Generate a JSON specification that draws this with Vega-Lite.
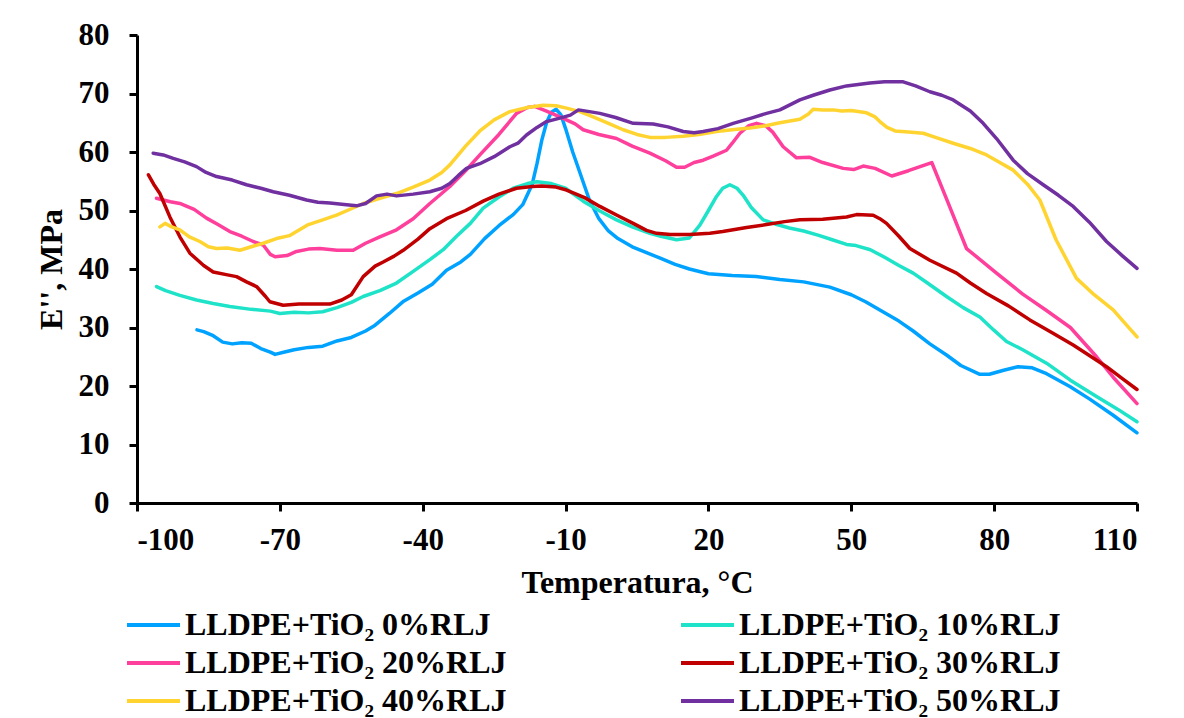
{
  "$schema": "https://vega.github.io/schema/vega-lite/v6.json",
  "width": 1000,
  "height": 468,
  "autosize": {"type": "none"},
  "padding": {"left": 137, "top": 35, "right": 47, "bottom": 215},
  "background": "white",
  "datasets": {
    "names": [
      {"k": 0, "s": "LLDPE+TiO₂ 0%RLJ"},
      {"k": 10, "s": "LLDPE+TiO₂ 10%RLJ"},
      {"k": 20, "s": "LLDPE+TiO₂ 20%RLJ"},
      {"k": 30, "s": "LLDPE+TiO₂ 30%RLJ"},
      {"k": 40, "s": "LLDPE+TiO₂ 40%RLJ"},
      {"k": 50, "s": "LLDPE+TiO₂ 50%RLJ"}
    ],
    "curves": [
      {"k":0,"t":-87.4,"e":29.6},{"k":0,"t":-86,"e":29.3},{"k":0,"t":-84,"e":28.6},{"k":0,"t":-82,"e":27.5},{"k":0,"t":-80,"e":27.2},{"k":0,"t":-78,"e":27.4},{"k":0,"t":-76,"e":27.3},{"k":0,"t":-74,"e":26.4},{"k":0,"t":-72,"e":25.8},{"k":0,"t":-71,"e":25.4},{"k":0,"t":-69,"e":25.8},{"k":0,"t":-67,"e":26.2},{"k":0,"t":-64,"e":26.6},{"k":0,"t":-61,"e":26.8},{"k":0,"t":-58,"e":27.7},{"k":0,"t":-55,"e":28.3},{"k":0,"t":-52,"e":29.4},{"k":0,"t":-50,"e":30.4},{"k":0,"t":-47,"e":32.4},{"k":0,"t":-44,"e":34.5},{"k":0,"t":-41,"e":35.9},{"k":0,"t":-38,"e":37.4},{"k":0,"t":-35,"e":39.8},{"k":0,"t":-32,"e":41.2},{"k":0,"t":-30,"e":42.5},{"k":0,"t":-27,"e":45.2},{"k":0,"t":-24,"e":47.4},{"k":0,"t":-21,"e":49.3},{"k":0,"t":-19,"e":51},{"k":0,"t":-17,"e":54.5},{"k":0,"t":-16,"e":58},{"k":0,"t":-15,"e":62},{"k":0,"t":-14,"e":65},{"k":0,"t":-13,"e":66.8},{"k":0,"t":-12,"e":67.3},{"k":0,"t":-11,"e":66.4},{"k":0,"t":-10,"e":64},{"k":0,"t":-8.5,"e":60},{"k":0,"t":-7,"e":56.5},{"k":0,"t":-5,"e":51.8},{"k":0,"t":-3,"e":48.6},{"k":0,"t":-1,"e":46.5},{"k":0,"t":1,"e":45.2},{"k":0,"t":4,"e":43.8},{"k":0,"t":7,"e":42.8},{"k":0,"t":10,"e":41.8},{"k":0,"t":13,"e":40.8},{"k":0,"t":16,"e":40},{"k":0,"t":20,"e":39.2},{"k":0,"t":25,"e":38.9},{"k":0,"t":30,"e":38.7},{"k":0,"t":35,"e":38.2},{"k":0,"t":40,"e":37.8},{"k":0,"t":45.5,"e":36.9},{"k":0,"t":50,"e":35.6},{"k":0,"t":53,"e":34.4},{"k":0,"t":56,"e":33},{"k":0,"t":60,"e":31.1},{"k":0,"t":63,"e":29.4},{"k":0,"t":66.5,"e":27.2},{"k":0,"t":70,"e":25.3},{"k":0,"t":73,"e":23.5},{"k":0,"t":77,"e":22},{"k":0,"t":79,"e":22},{"k":0,"t":82,"e":22.7},{"k":0,"t":85,"e":23.3},{"k":0,"t":88,"e":23.1},{"k":0,"t":91,"e":22.1},{"k":0,"t":95.9,"e":19.9},{"k":0,"t":100,"e":17.8},{"k":0,"t":105,"e":15},{"k":0,"t":110,"e":12},
      {"k":10,"t":-95.9,"e":37},{"k":10,"t":-94,"e":36.3},{"k":10,"t":-91,"e":35.5},{"k":10,"t":-87.5,"e":34.7},{"k":10,"t":-84,"e":34.1},{"k":10,"t":-80.5,"e":33.6},{"k":10,"t":-76,"e":33.1},{"k":10,"t":-72,"e":32.8},{"k":10,"t":-70,"e":32.4},{"k":10,"t":-67,"e":32.6},{"k":10,"t":-64,"e":32.5},{"k":10,"t":-61,"e":32.7},{"k":10,"t":-58,"e":33.4},{"k":10,"t":-55,"e":34.3},{"k":10,"t":-52.5,"e":35.3},{"k":10,"t":-49,"e":36.3},{"k":10,"t":-45.5,"e":37.6},{"k":10,"t":-42,"e":39.6},{"k":10,"t":-38.5,"e":41.6},{"k":10,"t":-35.7,"e":43.3},{"k":10,"t":-33,"e":45.5},{"k":10,"t":-30,"e":47.8},{"k":10,"t":-27.3,"e":50.4},{"k":10,"t":-24,"e":52.3},{"k":10,"t":-21,"e":53.8},{"k":10,"t":-18,"e":54.6},{"k":10,"t":-16,"e":54.9},{"k":10,"t":-13,"e":54.6},{"k":10,"t":-10,"e":53.8},{"k":10,"t":-6.3,"e":51.6},{"k":10,"t":-3,"e":50},{"k":10,"t":0.7,"e":48.4},{"k":10,"t":4,"e":47.2},{"k":10,"t":7.7,"e":46.1},{"k":10,"t":10,"e":45.6},{"k":10,"t":13.3,"e":45},{"k":10,"t":16,"e":45.3},{"k":10,"t":18.2,"e":47.5},{"k":10,"t":20,"e":50},{"k":10,"t":21.7,"e":52.4},{"k":10,"t":23,"e":53.8},{"k":10,"t":24.5,"e":54.4},{"k":10,"t":26,"e":53.8},{"k":10,"t":27.3,"e":52.6},{"k":10,"t":29,"e":50.5},{"k":10,"t":31.5,"e":48.4},{"k":10,"t":34,"e":47.7},{"k":10,"t":37,"e":47},{"k":10,"t":40,"e":46.5},{"k":10,"t":43,"e":45.8},{"k":10,"t":46,"e":45},{"k":10,"t":49,"e":44.2},{"k":10,"t":51,"e":44},{"k":10,"t":54,"e":43.3},{"k":10,"t":57,"e":42},{"k":10,"t":60,"e":40.6},{"k":10,"t":63,"e":39.3},{"k":10,"t":66,"e":37.6},{"k":10,"t":70,"e":35.3},{"k":10,"t":73.5,"e":33.4},{"k":10,"t":77,"e":31.8},{"k":10,"t":80,"e":29.5},{"k":10,"t":82.6,"e":27.6},{"k":10,"t":86,"e":26.2},{"k":10,"t":91,"e":23.9},{"k":10,"t":96,"e":21},{"k":10,"t":101.5,"e":18.2},{"k":10,"t":106,"e":16},{"k":10,"t":110,"e":13.9},
      {"k":20,"t":-95.9,"e":52.1},{"k":20,"t":-93,"e":51.5},{"k":20,"t":-91,"e":51.2},{"k":20,"t":-88,"e":50.2},{"k":20,"t":-85.4,"e":48.7},{"k":20,"t":-83,"e":47.6},{"k":20,"t":-80.5,"e":46.4},{"k":20,"t":-78,"e":45.6},{"k":20,"t":-75.6,"e":44.7},{"k":20,"t":-73.5,"e":44.1},{"k":20,"t":-72,"e":42.5},{"k":20,"t":-71,"e":42.1},{"k":20,"t":-68.5,"e":42.3},{"k":20,"t":-66.5,"e":43},{"k":20,"t":-64,"e":43.4},{"k":20,"t":-61.6,"e":43.5},{"k":20,"t":-58,"e":43.2},{"k":20,"t":-54.6,"e":43.2},{"k":20,"t":-52,"e":44.4},{"k":20,"t":-49,"e":45.5},{"k":20,"t":-45.5,"e":46.7},{"k":20,"t":-42,"e":48.6},{"k":20,"t":-38.5,"e":51.2},{"k":20,"t":-34.3,"e":54.1},{"k":20,"t":-31,"e":56.8},{"k":20,"t":-28,"e":59.5},{"k":20,"t":-24,"e":63},{"k":20,"t":-20.3,"e":66.6},{"k":20,"t":-18,"e":67.6},{"k":20,"t":-16.5,"e":67.8},{"k":20,"t":-14,"e":67},{"k":20,"t":-11.2,"e":66},{"k":20,"t":-8,"e":64.8},{"k":20,"t":-6.3,"e":63.8},{"k":20,"t":-3,"e":63},{"k":20,"t":0.7,"e":62.3},{"k":20,"t":4,"e":61},{"k":20,"t":7.7,"e":59.8},{"k":20,"t":11,"e":58.5},{"k":20,"t":13.3,"e":57.4},{"k":20,"t":15,"e":57.4},{"k":20,"t":17,"e":58.2},{"k":20,"t":18.9,"e":58.6},{"k":20,"t":21,"e":59.3},{"k":20,"t":23.8,"e":60.3},{"k":20,"t":25,"e":61.5},{"k":20,"t":26.6,"e":63.2},{"k":20,"t":28.5,"e":64.5},{"k":20,"t":30.1,"e":64.9},{"k":20,"t":32,"e":64.5},{"k":20,"t":33.5,"e":63.4},{"k":20,"t":35.7,"e":60.9},{"k":20,"t":38.5,"e":59},{"k":20,"t":41.3,"e":59.1},{"k":20,"t":44,"e":58.2},{"k":20,"t":48.3,"e":57.2},{"k":20,"t":50.5,"e":57},{"k":20,"t":52.5,"e":57.6},{"k":20,"t":55,"e":57.2},{"k":20,"t":58.5,"e":55.9},{"k":20,"t":62,"e":56.8},{"k":20,"t":66.9,"e":58.2},{"k":20,"t":70,"e":52},{"k":20,"t":74.2,"e":43.5},{"k":20,"t":80.5,"e":39.3},{"k":20,"t":86,"e":35.7},{"k":20,"t":91,"e":32.9},{"k":20,"t":96,"e":30},{"k":20,"t":101.5,"e":25},{"k":20,"t":105,"e":21.5},{"k":20,"t":110,"e":17},
      {"k":30,"t":-97.6,"e":56.1},{"k":30,"t":-96.5,"e":54.5},{"k":30,"t":-95.2,"e":52.9},{"k":30,"t":-93.1,"e":48.9},{"k":30,"t":-91,"e":45.5},{"k":30,"t":-88.9,"e":42.7},{"k":30,"t":-86,"e":40.6},{"k":30,"t":-84,"e":39.5},{"k":30,"t":-81,"e":39},{"k":30,"t":-79.1,"e":38.7},{"k":30,"t":-77,"e":37.8},{"k":30,"t":-74.9,"e":37},{"k":30,"t":-73,"e":35.3},{"k":30,"t":-72.1,"e":34.4},{"k":30,"t":-69.3,"e":33.8},{"k":30,"t":-66,"e":34},{"k":30,"t":-62.3,"e":34},{"k":30,"t":-59.5,"e":34},{"k":30,"t":-57,"e":34.7},{"k":30,"t":-55,"e":35.6},{"k":30,"t":-52.5,"e":38.7},{"k":30,"t":-50,"e":40.5},{"k":30,"t":-48.3,"e":41.2},{"k":30,"t":-46,"e":42.2},{"k":30,"t":-44.1,"e":43.2},{"k":30,"t":-41,"e":45.1},{"k":30,"t":-38.5,"e":46.9},{"k":30,"t":-35,"e":48.6},{"k":30,"t":-31,"e":50},{"k":30,"t":-27.3,"e":51.6},{"k":30,"t":-24,"e":52.8},{"k":30,"t":-20.3,"e":53.8},{"k":30,"t":-17,"e":54.1},{"k":30,"t":-15,"e":54.2},{"k":30,"t":-12,"e":54},{"k":30,"t":-9.8,"e":53.5},{"k":30,"t":-6,"e":52.2},{"k":30,"t":-2.8,"e":50.7},{"k":30,"t":1,"e":49.1},{"k":30,"t":4.2,"e":47.8},{"k":30,"t":7,"e":46.6},{"k":30,"t":9.1,"e":46.1},{"k":30,"t":12,"e":45.9},{"k":30,"t":16,"e":45.9},{"k":30,"t":20.3,"e":46.1},{"k":30,"t":23,"e":46.4},{"k":30,"t":25.2,"e":46.7},{"k":30,"t":28,"e":47.1},{"k":30,"t":32.2,"e":47.6},{"k":30,"t":36,"e":48.1},{"k":30,"t":39.2,"e":48.4},{"k":30,"t":44,"e":48.5},{"k":30,"t":49,"e":48.9},{"k":30,"t":51.1,"e":49.3},{"k":30,"t":54.6,"e":49.2},{"k":30,"t":56,"e":48.6},{"k":30,"t":57.4,"e":47.8},{"k":30,"t":60,"e":45.6},{"k":30,"t":62.3,"e":43.5},{"k":30,"t":66.5,"e":41.5},{"k":30,"t":72.1,"e":39.3},{"k":30,"t":75,"e":37.6},{"k":30,"t":78.4,"e":35.8},{"k":30,"t":83,"e":33.7},{"k":30,"t":87.5,"e":31.3},{"k":30,"t":92,"e":29.2},{"k":30,"t":96.6,"e":27},{"k":30,"t":100,"e":25.2},{"k":30,"t":103.6,"e":23.3},{"k":30,"t":107,"e":21.2},{"k":30,"t":110,"e":19.4},
      {"k":40,"t":-95.2,"e":47.2},{"k":40,"t":-94.1,"e":47.8},{"k":40,"t":-93,"e":47.3},{"k":40,"t":-91,"e":46.7},{"k":40,"t":-89,"e":45.5},{"k":40,"t":-86.8,"e":44.7},{"k":40,"t":-85,"e":43.8},{"k":40,"t":-83.3,"e":43.5},{"k":40,"t":-81,"e":43.6},{"k":40,"t":-78.4,"e":43.2},{"k":40,"t":-76,"e":43.8},{"k":40,"t":-73.5,"e":44.4},{"k":40,"t":-70.7,"e":45.2},{"k":40,"t":-68,"e":45.7},{"k":40,"t":-66.5,"e":46.4},{"k":40,"t":-64,"e":47.6},{"k":40,"t":-61,"e":48.4},{"k":40,"t":-58.1,"e":49.2},{"k":40,"t":-55,"e":50.3},{"k":40,"t":-52.5,"e":51.2},{"k":40,"t":-49,"e":52.1},{"k":40,"t":-45.5,"e":52.9},{"k":40,"t":-42,"e":54},{"k":40,"t":-38.5,"e":55.2},{"k":40,"t":-36,"e":56.5},{"k":40,"t":-34.3,"e":57.8},{"k":40,"t":-31,"e":61},{"k":40,"t":-28,"e":63.6},{"k":40,"t":-25,"e":65.5},{"k":40,"t":-21.7,"e":66.9},{"k":40,"t":-18,"e":67.6},{"k":40,"t":-14.7,"e":68},{"k":40,"t":-12,"e":67.9},{"k":40,"t":-9.8,"e":67.5},{"k":40,"t":-7,"e":66.9},{"k":40,"t":-4.2,"e":66},{"k":40,"t":-1,"e":64.9},{"k":40,"t":2.1,"e":63.8},{"k":40,"t":5,"e":63},{"k":40,"t":7.7,"e":62.5},{"k":40,"t":11,"e":62.5},{"k":40,"t":14.7,"e":62.7},{"k":40,"t":18,"e":63},{"k":40,"t":21.7,"e":63.5},{"k":40,"t":25,"e":63.8},{"k":40,"t":28.7,"e":64.1},{"k":40,"t":32,"e":64.5},{"k":40,"t":35,"e":65},{"k":40,"t":39.2,"e":65.6},{"k":40,"t":41,"e":66.5},{"k":40,"t":42,"e":67.3},{"k":40,"t":44,"e":67.2},{"k":40,"t":46.2,"e":67.2},{"k":40,"t":48,"e":67},{"k":40,"t":50,"e":67.1},{"k":40,"t":53.2,"e":66.7},{"k":40,"t":55,"e":66},{"k":40,"t":56,"e":65.2},{"k":40,"t":57.5,"e":64.2},{"k":40,"t":59.2,"e":63.6},{"k":40,"t":62,"e":63.4},{"k":40,"t":65.1,"e":63.2},{"k":40,"t":68,"e":62.4},{"k":40,"t":71.4,"e":61.5},{"k":40,"t":75,"e":60.6},{"k":40,"t":78.4,"e":59.5},{"k":40,"t":81,"e":58.3},{"k":40,"t":84,"e":56.9},{"k":40,"t":87,"e":54.5},{"k":40,"t":89.6,"e":51.8},{"k":40,"t":93,"e":45},{"k":40,"t":97.3,"e":38.4},{"k":40,"t":101,"e":35.6},{"k":40,"t":105,"e":33},{"k":40,"t":107.5,"e":30.7},{"k":40,"t":110,"e":28.4},
      {"k":50,"t":-96.6,"e":59.8},{"k":50,"t":-94.5,"e":59.5},{"k":50,"t":-92.4,"e":58.9},{"k":50,"t":-90,"e":58.3},{"k":50,"t":-87.5,"e":57.5},{"k":50,"t":-85.5,"e":56.5},{"k":50,"t":-83.3,"e":55.8},{"k":50,"t":-80,"e":55.2},{"k":50,"t":-77,"e":54.4},{"k":50,"t":-74,"e":53.8},{"k":50,"t":-71.4,"e":53.2},{"k":50,"t":-68,"e":52.6},{"k":50,"t":-64.4,"e":51.8},{"k":50,"t":-62,"e":51.4},{"k":50,"t":-59.5,"e":51.3},{"k":50,"t":-56,"e":51},{"k":50,"t":-53.9,"e":50.8},{"k":50,"t":-52,"e":51.2},{"k":50,"t":-49.7,"e":52.5},{"k":50,"t":-47.5,"e":52.8},{"k":50,"t":-45.5,"e":52.5},{"k":50,"t":-42,"e":52.8},{"k":50,"t":-38.5,"e":53.2},{"k":50,"t":-36,"e":53.8},{"k":50,"t":-34.3,"e":54.6},{"k":50,"t":-32.5,"e":56},{"k":50,"t":-30.8,"e":57.2},{"k":50,"t":-28,"e":58},{"k":50,"t":-25,"e":59.2},{"k":50,"t":-21.7,"e":60.9},{"k":50,"t":-20,"e":61.5},{"k":50,"t":-18.2,"e":62.9},{"k":50,"t":-16,"e":64.2},{"k":50,"t":-14,"e":65.2},{"k":50,"t":-11.2,"e":65.8},{"k":50,"t":-9,"e":66.3},{"k":50,"t":-7.3,"e":67.2},{"k":50,"t":-5,"e":66.9},{"k":50,"t":-2.8,"e":66.6},{"k":50,"t":0.5,"e":65.9},{"k":50,"t":4.2,"e":64.9},{"k":50,"t":8.4,"e":64.8},{"k":50,"t":11.5,"e":64.3},{"k":50,"t":14.7,"e":63.5},{"k":50,"t":17,"e":63.3},{"k":50,"t":18.9,"e":63.5},{"k":50,"t":22,"e":64},{"k":50,"t":25.2,"e":64.9},{"k":50,"t":29,"e":65.8},{"k":50,"t":32.2,"e":66.6},{"k":50,"t":35,"e":67.2},{"k":50,"t":39.2,"e":68.9},{"k":50,"t":42,"e":69.7},{"k":50,"t":45.5,"e":70.6},{"k":50,"t":49,"e":71.3},{"k":50,"t":53.9,"e":71.8},{"k":50,"t":57,"e":72},{"k":50,"t":60.9,"e":72},{"k":50,"t":63.5,"e":71.3},{"k":50,"t":66.5,"e":70.3},{"k":50,"t":69,"e":69.7},{"k":50,"t":71.4,"e":68.9},{"k":50,"t":75,"e":67},{"k":50,"t":77.7,"e":64.9},{"k":50,"t":80.5,"e":62.3},{"k":50,"t":84,"e":58.6},{"k":50,"t":87,"e":56.3},{"k":50,"t":90.3,"e":54.4},{"k":50,"t":93.5,"e":52.6},{"k":50,"t":96.6,"e":50.7},{"k":50,"t":100,"e":48},{"k":50,"t":103.6,"e":44.7},{"k":50,"t":107,"e":42.2},{"k":50,"t":110,"e":40.1}
    ]
  },
  "data": {"name": "curves"},
  "transform": [
    {"lookup": "k", "from": {"data": {"name": "names"}, "key": "k", "fields": ["s"]}}
  ],
  "mark": {"type": "line", "strokeWidth": 3.5, "strokeJoin": "round", "strokeCap": "round"},
  "encoding": {
    "x": {
      "field": "t", "type": "quantitative",
      "scale": {"domain": [-100, 110], "nice": false, "zero": false},
      "axis": {"values": [-100, -70, -40, -10, 20, 50, 80, 110], "labelExpr": "toString(datum.value)", "title": "Temperatura, °C", "labelPadding": 14, "titlePadding": 12}
    },
    "y": {
      "field": "e", "type": "quantitative",
      "scale": {"domain": [0, 80], "nice": false},
      "axis": {"values": [0, 10, 20, 30, 40, 50, 60, 70, 80], "title": "E'', MPa", "labelPadding": 20, "titlePadding": 10}
    },
    "color": {
      "field": "s", "type": "nominal",
      "scale": {
        "domain": ["LLDPE+TiO₂ 0%RLJ", "LLDPE+TiO₂ 10%RLJ", "LLDPE+TiO₂ 20%RLJ", "LLDPE+TiO₂ 30%RLJ", "LLDPE+TiO₂ 40%RLJ", "LLDPE+TiO₂ 50%RLJ"],
        "range": ["#00A2FF", "#1EE3C8", "#FF3F9C", "#C00000", "#FFD430", "#7030A0"]
      },
      "legend": {
        "orient": "none", "legendX": -12, "legendY": 571, "direction": "horizontal",
        "title": null, "columns": 2, "columnPadding": 172, "rowPadding": 0, "clipHeight": 38,
        "symbolType": "stroke", "symbolSize": 2809, "symbolStrokeWidth": 4,
        "labelFont": "Liberation Serif", "labelFontSize": 32, "labelFontWeight": "bold", "labelColor": "black",
        "labelOffset": 3, "labelLimit": 800, "padding": 0
      }
    }
  },
  "config": {
    "view": {"stroke": null},
    "axis": {
      "grid": false,
      "domainColor": "black", "domainWidth": 3,
      "tickColor": "black", "tickWidth": 3, "tickSize": 8,
      "labelFont": "Liberation Serif", "labelFontSize": 31, "labelFontWeight": "bold", "labelColor": "black",
      "titleFont": "Liberation Serif", "titleFontSize": 32, "titleFontWeight": "bold", "titleColor": "black"
    }
  }
}
